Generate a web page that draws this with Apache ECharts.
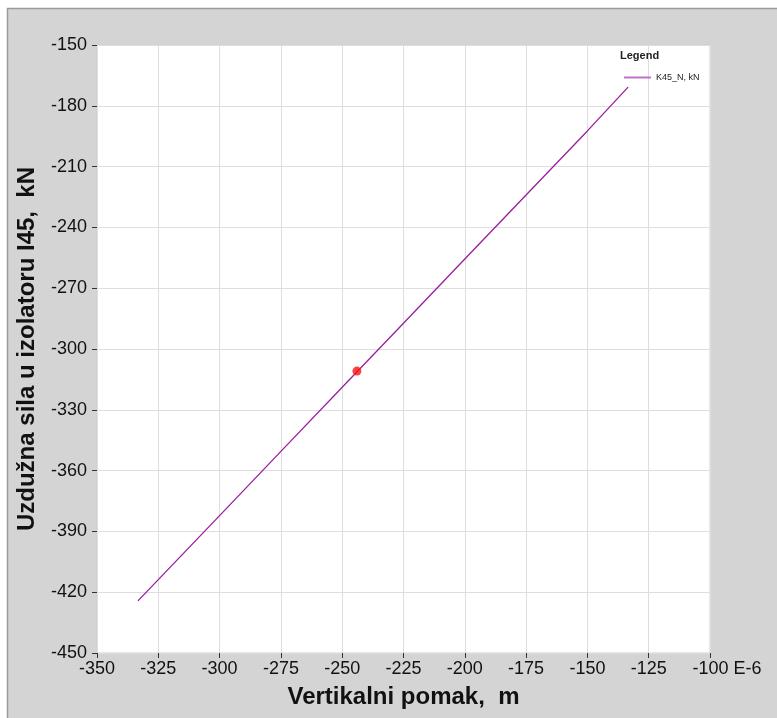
<!DOCTYPE html>
<html>
<head>
<meta charset="utf-8">
<script src="https://cdn.jsdelivr.net/npm/echarts@6/dist/echarts.min.js"></script>
<style>
  html, body { margin: 0; padding: 0; background: #fff; }
  #chart { width: 777px; height: 718px; }
</style>
</head>
<body>
<div id="chart"></div>
<script>
// vertikalni pomak (E-6 m) i uzduzna sila (kN)
var pomak = [-333.3, -300, -275, -250, -225, -200, -175, -150, -133.4];
var sila = [-424.3, -382.2, -350.5, -318.9, -287.3, -255.6, -224.0, -192.4, -170.8];
var tocka = [-244.0, -310.9];

var linija = pomak.map(function (x, i) { return [x, sila[i]]; });

var myChart = echarts.init(document.getElementById('chart'));
var option = {
  animation: false,
  backgroundColor: '#fff',
  textStyle: { fontFamily: 'Liberation Sans, Arial, sans-serif' },
  graphic: [
    {
      type: 'rect', z: -10, silent: true,
      shape: { x: 7.5, y: 8.5, width: 775, height: 720 },
      style: { fill: '#d4d4d4', stroke: '#9a9a9a', lineWidth: 1.5 }
    },
    {
      type: 'text', left: 620, top: 50, z: 10,
      style: { text: 'Legend', font: 'bold 11px Liberation Sans, Arial', fill: '#222' }
    }
  ],
  grid: {
    left: 97, right: 67, top: 45, bottom: 65,
    show: true, backgroundColor: '#fff', borderColor: '#cfcfcf', borderWidth: 1
  },
  legend: {
    data: ['K45_N, kN'],
    left: 619, top: 68,
    itemWidth: 27, itemHeight: 2, itemGap: 4,
    icon: 'rect',
    textStyle: { fontSize: 9, color: '#222', fontFamily: 'Liberation Sans, Arial' }
  },
  xAxis: {
    type: 'value', min: -350, max: -100, interval: 25,
    name: 'Vertikalni pomak,  m', nameLocation: 'middle', nameGap: 32,
    nameTextStyle: { fontSize: 24, fontWeight: 'bold', color: '#111' },
    axisLine: { show: false },
    axisTick: { show: true, length: 5, lineStyle: { color: '#333' } },
    axisLabel: {
      fontSize: 18, color: '#111', margin: 7,
      formatter: function (v) { return v === -100 ? '{p|}-100 E-6' : String(v); },
      rich: { p: { width: 34 } }
    },
    splitLine: { lineStyle: { color: '#dedede' } }
  },
  yAxis: {
    type: 'value', min: -450, max: -150, interval: 30,
    name: 'Uzdužna sila u izolatoru I45,  kN', nameLocation: 'middle', nameGap: 58,
    nameTextStyle: { fontSize: 24, fontWeight: 'bold', color: '#111' },
    axisLine: { show: false },
    axisTick: { show: true, length: 5, lineStyle: { color: '#333' } },
    axisLabel: { fontSize: 18, color: '#111', margin: 10 },
    splitLine: { lineStyle: { color: '#dedede' } }
  },
  series: [
    {
      name: 'K45_N, kN', type: 'line', data: linija,
      showSymbol: false, symbol: 'none',
      itemStyle: { color: '#c070c8' },
      lineStyle: { color: '#9a1e9e', width: 1.3 }
    },
    {
      type: 'scatter', data: [tocka], symbolSize: 9,
      itemStyle: { color: '#ff1010' }, z: 5
    }
  ]
};
myChart.setOption(option);
</script>
</body>
</html>
